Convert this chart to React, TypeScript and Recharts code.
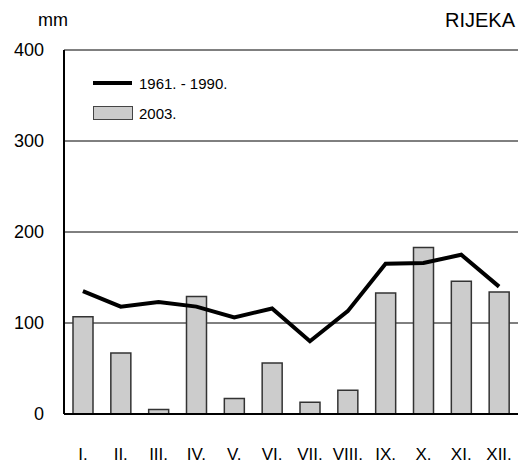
import React from 'react'
import {
  ComposedChart,
  Bar,
  Line,
  XAxis,
  YAxis,
  CartesianGrid,
} from 'recharts'

const months = ['I.', 'II.', 'III.', 'IV.', 'V.', 'VI.', 'VII.', 'VIII.', 'IX.', 'X.', 'XI.', 'XII.']
const normal = [135, 118, 123, 118, 106, 116, 80, 113, 165, 166, 175, 140]
const year2003 = [107, 67, 5, 129, 17, 56, 13, 26, 133, 183, 146, 134]
const yTicks = [0, 100, 200, 300, 400]

const data = months.map((m, i) => ({ month: m, normal: normal[i], y2003: year2003[i] }))

const font = '"Liberation Sans", Arial, sans-serif'

// legend drawn as an overlay so it doesn't push the plot down
function LegendBox() {
  return (
    <div style={{ position: 'absolute', left: 93, top: 72, fontFamily: font, fontSize: 15, color: '#000', zIndex: 2 }}>
      <div style={{ display: 'flex', alignItems: 'center', height: 22 }}>
        <div style={{ width: 39, height: 4, background: '#000', marginRight: 7 }} />
        <span>1961. - 1990.</span>
      </div>
      <div style={{ display: 'flex', alignItems: 'center', height: 14, marginTop: 12 }}>
        <div
          style={{
            width: 38,
            height: 12,
            background: '#cccccc',
            border: '1px solid #444',
            marginRight: 6,
          }}
        />
        <span>2003.</span>
      </div>
    </div>
  )
}

export default function App() {
  return (
    <div style={{ position: 'absolute', left: 0, top: 0, width: 522, height: 465, background: '#fff', fontFamily: font }}>
      <div style={{ position: 'absolute', left: 38, top: 11, fontSize: 18, lineHeight: '18px' }}>mm</div>
      <div style={{ position: 'absolute', right: 7, top: 10, fontSize: 20, lineHeight: '20px' }}>RIJEKA</div>
      <LegendBox />
      <ComposedChart
        width={522}
        height={465}
        data={data}
        margin={{ top: 50, right: 4, bottom: 0, left: 0 }}
        barCategoryGap={0}
      >
        <CartesianGrid vertical={false} stroke="#000" strokeWidth={1} />
        <XAxis
          dataKey="month"
          axisLine={{ stroke: '#000', strokeWidth: 2 }}
          tickLine={false}
          tickSize={0}
          tickMargin={34}
          height={51}
          interval={0}
          tick={{ fill: '#000', fontSize: 17, fontFamily: font }}
        />
        <XAxis xAxisId="top" orientation="top" dataKey="month" height={0} tick={false} tickLine={false} axisLine={{ stroke: '#777', strokeWidth: 1 }} />
        <YAxis
          domain={[0, 400]}
          ticks={yTicks}
          width={64}
          axisLine={{ stroke: '#000', strokeWidth: 2 }}
          tickLine={false}
          tickSize={0}
          tickMargin={20}
          tick={{ fill: '#000', fontSize: 18, fontFamily: font }}
        />
        <YAxis yAxisId="right" orientation="right" width={0} tick={false} tickLine={false} axisLine={{ stroke: '#777', strokeWidth: 1 }} />
        <Bar
          dataKey="y2003"
          fill="#cccccc"
          stroke="#333"
          strokeWidth={1.5}
          barSize={20}
          isAnimationActive={false}
        />
        <Line
          dataKey="normal"
          type="linear"
          stroke="#000"
          strokeWidth={4}
          dot={false}
          isAnimationActive={false}
        />
      </ComposedChart>
    </div>
  )
}
